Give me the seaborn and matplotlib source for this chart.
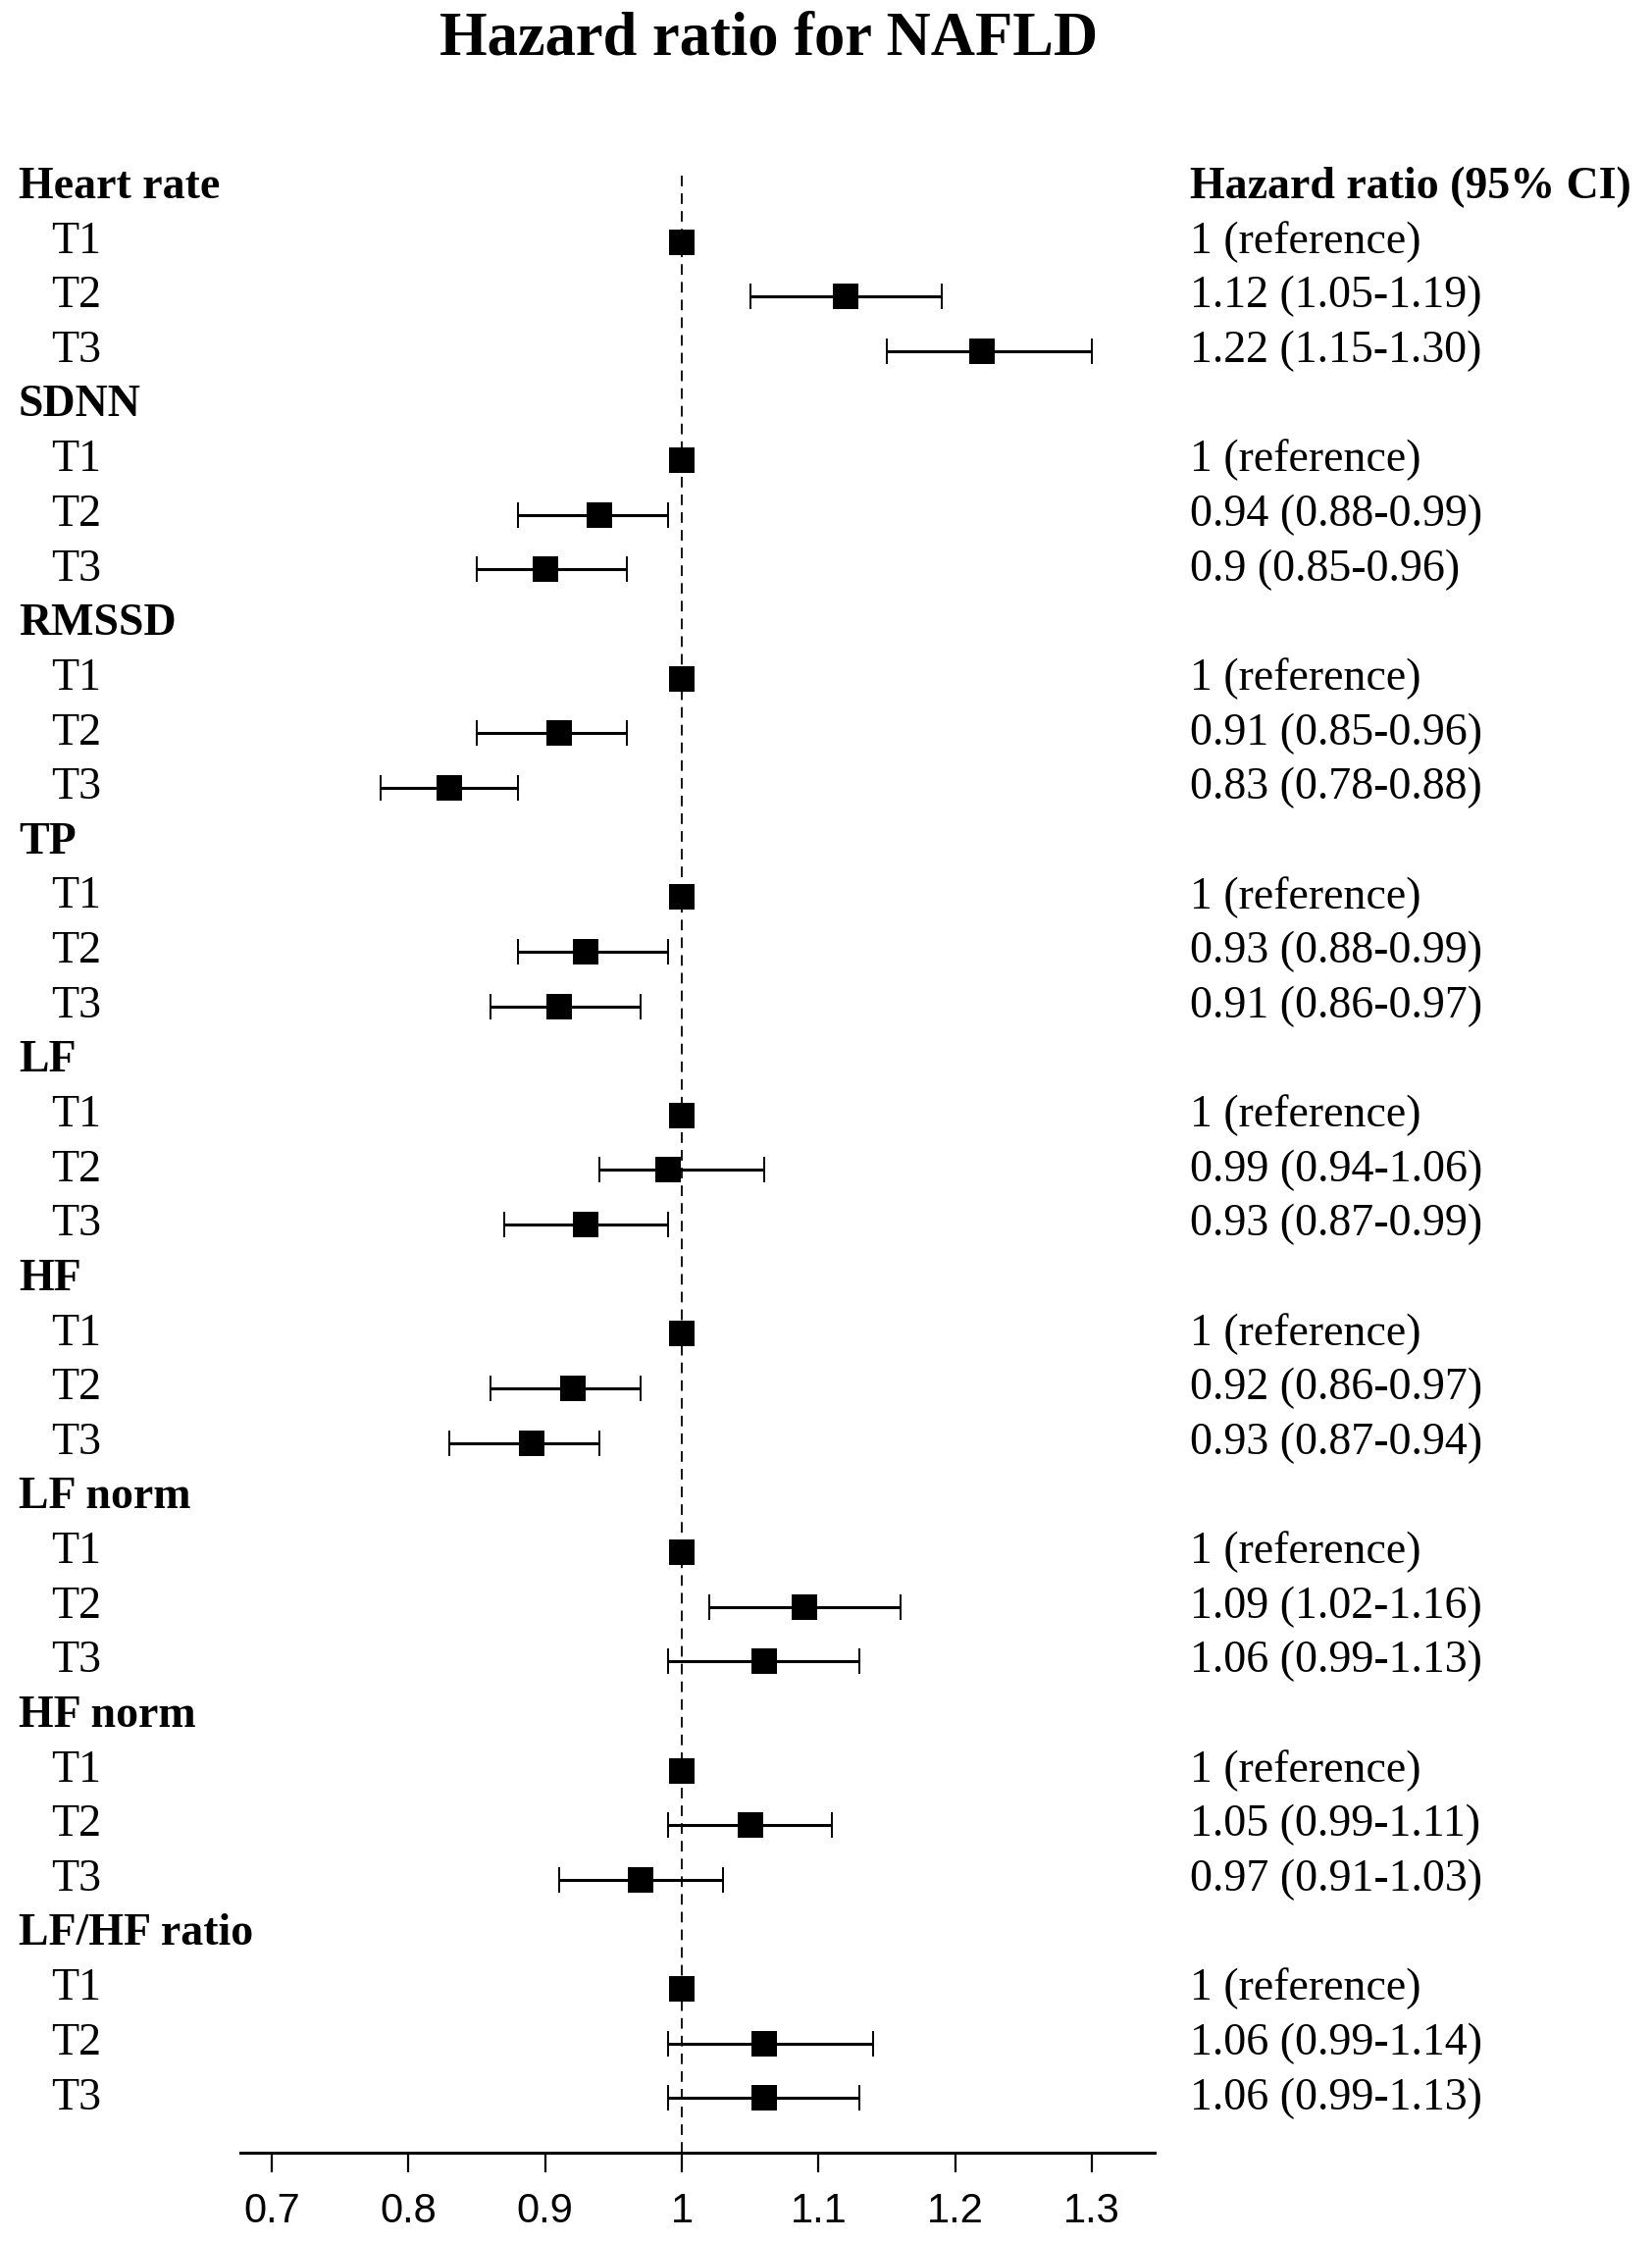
import matplotlib
matplotlib.use("Agg")
import matplotlib.pyplot as plt
import matplotlib.transforms as mtransforms
import seaborn as sns
import pandas as pd

# variables and tertile rows
groups = ["Heart rate", "SDNN", "RMSSD", "TP", "LF", "HF", "LF norm", "HF norm", "LF/HF ratio"]
levels = ["T1", "T2", "T3"]

# plotted estimates (T2, T3 for each variable; T1 is the reference = 1)
hr_t2 = [1.12, 0.94, 0.91, 0.93, 0.99, 0.92, 1.09, 1.05, 1.06]
lo_t2 = [1.05, 0.88, 0.85, 0.88, 0.94, 0.86, 1.02, 0.99, 0.99]
hi_t2 = [1.19, 0.99, 0.96, 0.99, 1.06, 0.97, 1.16, 1.11, 1.14]
hr_t3 = [1.22, 0.90, 0.83, 0.91, 0.93, 0.89, 1.06, 0.97, 1.06]
lo_t3 = [1.15, 0.85, 0.78, 0.86, 0.87, 0.83, 0.99, 0.91, 0.99]
hi_t3 = [1.30, 0.96, 0.88, 0.97, 0.99, 0.94, 1.13, 1.03, 1.13]

# right-hand column texts
text_t2 = ["1.12 (1.05-1.19)", "0.94 (0.88-0.99)", "0.91 (0.85-0.96)", "0.93 (0.88-0.99)",
           "0.99 (0.94-1.06)", "0.92 (0.86-0.97)", "1.09 (1.02-1.16)", "1.05 (0.99-1.11)",
           "1.06 (0.99-1.14)"]
text_t3 = ["1.22 (1.15-1.30)", "0.9 (0.85-0.96)", "0.83 (0.78-0.88)", "0.91 (0.86-0.97)",
           "0.93 (0.87-0.99)", "0.93 (0.87-0.94)", "1.06 (0.99-1.13)", "0.97 (0.91-1.03)",
           "1.06 (0.99-1.13)"]
ref_text = "1 (reference)"

xticks = [0.7, 0.8, 0.9, 1.0, 1.1, 1.2, 1.3]
xticklabels = ["0.7", "0.8", "0.9", "1", "1.1", "1.2", "1.3"]

# build table, one row per line of the plot
rows = []
pos = 0
for i, g in enumerate(groups):
    rows.append(dict(row=pos, label=g, kind="header", hr=None, lo=None, hi=None, txt=""))
    pos += 1
    rows.append(dict(row=pos, label="T1", kind="ref", hr=1.0, lo=None, hi=None, txt=ref_text))
    pos += 1
    rows.append(dict(row=pos, label="T2", kind="est", hr=hr_t2[i], lo=lo_t2[i], hi=hi_t2[i], txt=text_t2[i]))
    pos += 1
    rows.append(dict(row=pos, label="T3", kind="est", hr=hr_t3[i], lo=lo_t3[i], hi=hi_t3[i], txt=text_t3[i]))
    pos += 1
df = pd.DataFrame(rows)
n_rows = pos

sns.set_style("white")
plt.rcParams["text.color"] = "black"
plt.rcParams["xtick.color"] = "black"
serif = ["Liberation Serif", "DejaVu Serif"]
sans = ["Liberation Sans", "DejaVu Sans"]

W, H = 1684, 2284
fig = plt.figure(figsize=(W / 100, H / 100), dpi=100)
ax_left, ax_right = 245, 1177
ax_top, ax_bottom = 177, 2194
ax = fig.add_axes([ax_left / W, 1 - ax_bottom / H, (ax_right - ax_left) / W, (ax_bottom - ax_top) / H])

ax.set_xlim(0.677, 1.346)
ax.set_ylim(n_rows, -0.25)

# reference line
ax.axvline(1.0, color="black", lw=1.3, dashes=(6, 4), zorder=1)

# confidence intervals
est = df[df["kind"] == "est"]
ax.errorbar(est["hr"], est["row"],
            xerr=[est["hr"] - est["lo"], est["hi"] - est["hr"]],
            fmt="none", ecolor="black", elinewidth=2.2, capsize=9.5, capthick=1.4, zorder=2)

# point estimates
pts = df[df["kind"] != "header"]
sns.scatterplot(data=pts, x="hr", y="row", marker="s", s=330, color="black",
                edgecolor="black", linewidth=0, ax=ax, zorder=3, legend=False)

# texts
fs = 33
trans = mtransforms.blended_transform_factory(fig.transFigure, ax.transData)
for _, r in df.iterrows():
    if r["kind"] == "header":
        ax.text(19 / W, r["row"], r["label"], transform=trans, ha="left", va="center",
                fontsize=fs, fontweight="bold", family=serif, color="black", clip_on=False)
    else:
        ax.text(52 / W, r["row"], r["label"], transform=trans, ha="left", va="center",
                fontsize=fs, family=serif, color="black", clip_on=False)
        ax.text(1213 / W, r["row"], r["txt"], transform=trans, ha="left", va="center",
                fontsize=fs, family=serif, color="black", clip_on=False)
ax.text(1213 / W, 0, "Hazard ratio (95% CI)", transform=trans, ha="left", va="center",
        fontsize=fs, fontweight="bold", family=serif, color="black", clip_on=False)

fig.text(784 / W, 1 - 40 / H, "Hazard ratio for NAFLD", ha="center", va="center",
         fontsize=45, fontweight="bold", family=serif, color="black")

# axis styling
for side in ["top", "left", "right"]:
    ax.spines[side].set_visible(False)
ax.spines["bottom"].set_linewidth(2.2)
ax.spines["bottom"].set_color("black")
ax.set_yticks([])
ax.set_xticks(xticks)
ax.set_xticklabels(xticklabels, family=sans, fontsize=30, color="black")
ax.tick_params(axis="x", direction="out", length=14.5, width=1.6, pad=14, bottom=True, colors="black")
ax.set_xlabel("")
ax.set_ylabel("")

fig.savefig("out.png", dpi=100, facecolor="white")
